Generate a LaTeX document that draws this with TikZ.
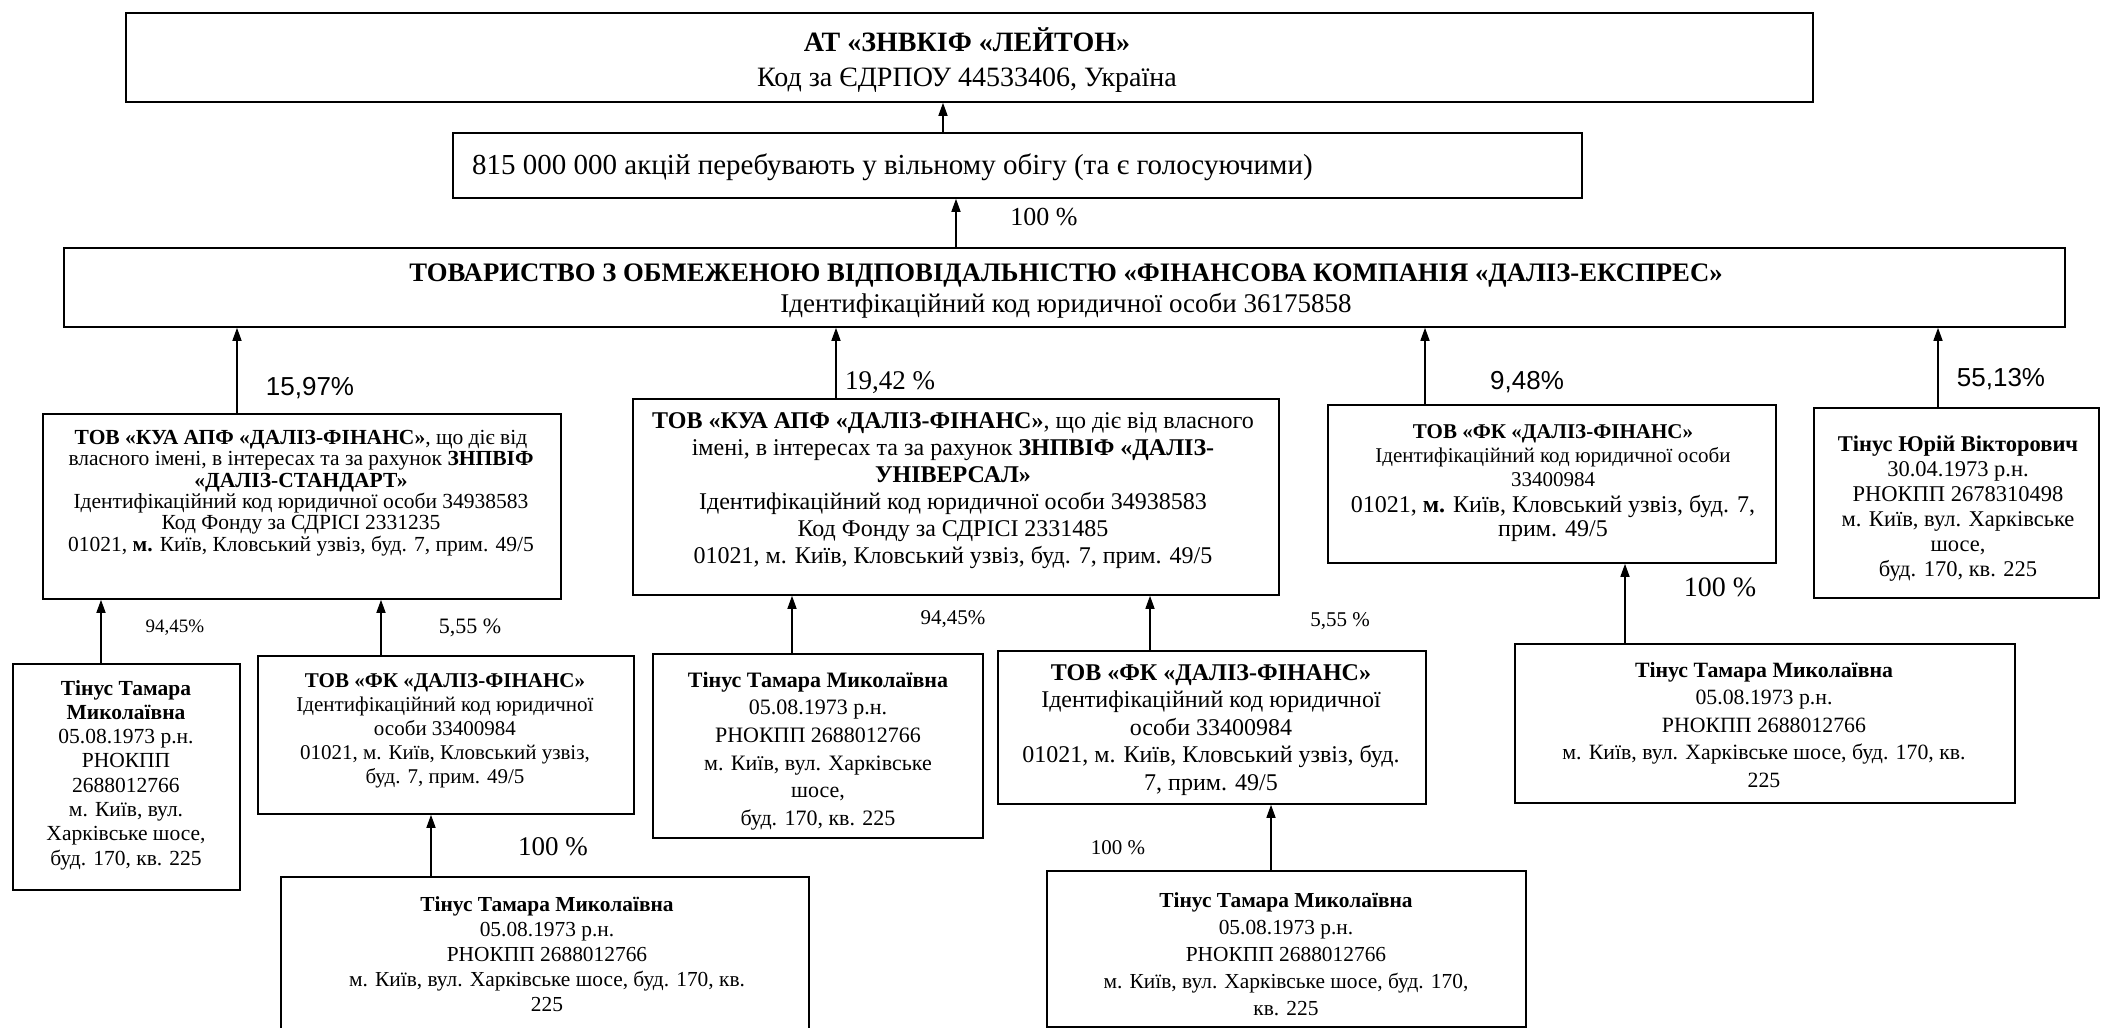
\documentclass[tikz,border=0pt]{standalone}
\usepackage{fontspec}
\setmainfont{Liberation Serif}
\newfontfamily\pctsans{Liberation Sans}
\usetikzlibrary{arrows.meta}
\newcommand{\fsz}[2]{\fontsize{#1}{#2}\selectfont}
\begin{document}
\begin{tikzpicture}[x=1pt,y=-1pt,
  box/.style={draw, line width=1.8pt, inner sep=0pt, anchor=north west},
  txt/.style={align=center, inner sep=0pt},
  pct/.style={inner sep=0pt},
  arr/.style={line width=1.5pt, -{Triangle[length=13pt,width=9pt]}}]
\fill[white] (0,0) rectangle (2105,1028);
\useasboundingbox (0,0) rectangle (2105,1028);

% ---------- boxes ----------
\node[box, minimum width=1687pt, minimum height=89pt] (b1) at (125,12) {};
\node[box, minimum width=1129pt, minimum height=65pt] (b2) at (452,132) {};
\node[box, minimum width=2001pt, minimum height=79pt] (b3) at (63,247) {};
\node[box, minimum width=518pt, minimum height=185pt] (b4) at (42,413) {};
\node[box, minimum width=646pt, minimum height=196pt] (b5) at (632,398) {};
\node[box, minimum width=448pt, minimum height=158pt] (b6) at (1327,404) {};
\node[box, minimum width=285pt, minimum height=190pt] (b7) at (1813,407) {};
\node[box, minimum width=227pt, minimum height=226pt] (b8) at (12,663) {};
\node[box, minimum width=376pt, minimum height=158pt] (b10) at (257,655) {};
\node[box, minimum width=528pt, minimum height=160pt] (b11) at (280,876) {};
\node[box, minimum width=330pt, minimum height=184pt] (b12) at (652,653) {};
\node[box, minimum width=428pt, minimum height=153pt] (b13) at (997,650) {};
\node[box, minimum width=479pt, minimum height=156pt] (b14) at (1046,870) {};
\node[box, minimum width=500pt, minimum height=159pt] (b9) at (1514,643) {};

% ---------- texts ----------
\node[txt, font=\fsz{28}{35}] (b1t) at (967,60)
  {\bfseries АТ «ЗНВКІФ «ЛЕЙТОН»\\Код за ЄДРПОУ 44533406, Україна};
\node[txt, anchor=west, font=\fsz{29}{34}] (b2t) at (472,167)
  {815 000 000 акцій перебувають у вільному обігу (та є голосуючими)};
\node[txt, font=\fsz{26.7}{31}] (b3t) at (1066,291)
  {\bfseries ТОВАРИСТВО З ОБМЕЖЕНОЮ ВІДПОВІДАЛЬНІСТЮ «ФІНАНСОВА КОМПАНІЯ «ДАЛІЗ-ЕКСПРЕС»\\
   \fsz{27}{31}Ідентифікаційний код юридичної особи 36175858};
\node[txt, font=\fsz{21.5}{21.4}] (b4t) at (301,493)
  {\textbf{ТОВ «КУА АПФ «ДАЛІЗ-ФІНАНС»}, що діє від\\
   власного імені, в інтересах та за рахунок \textbf{ЗНПВІФ}\\
   \textbf{«ДАЛІЗ-СТАНДАРТ»}\\
   Ідентифікаційний код юридичної особи 34938583\\
   Код Фонду за СДРІСІ 2331235\\
   01021, \textbf{м.} Київ, Кловський узвіз, буд. 7, прим. 49/5};
\node[txt, font=\fsz{24}{27}] (b5t) at (953,491)
  {\textbf{ТОВ «КУА АПФ «ДАЛІЗ-ФІНАНС»}, що діє від власного\\
   імені, в інтересах та за рахунок \textbf{ЗНПВІФ «ДАЛІЗ-}\\
   \textbf{УНІВЕРСАЛ»}\\
   Ідентифікаційний код юридичної особи 34938583\\
   Код Фонду за СДРІСІ 2331485\\
   01021, м. Київ, Кловський узвіз, буд. 7, прим. 49/5};
\node[txt, font=\fsz{21}{24}] (b6t) at (1553,483)
  {\textbf{ТОВ «ФК «ДАЛІЗ-ФІНАНС»}\\
   Ідентифікаційний код юридичної особи\\
   33400984\\[2pt]
   \fsz{24}{27}01021, \textbf{м.} Київ, Кловський узвіз, буд. 7,\\
   \fsz{24}{27}прим. 49/5};
\node[txt, font=\fsz{22.5}{25}] (b7t) at (1958,509)
  {\textbf{Тінус Юрій Вікторович}\\
   30.04.1973 р.н.\\
   РНОКПП 2678310498\\
   м. Київ, вул. Харківське\\
   шосе,\\
   буд. 170, кв. 225};
\node[txt, font=\fsz{21.5}{24.3}] (b8t) at (126,775)
  {\textbf{Тінус Тамара}\\
   \textbf{Миколаївна}\\
   05.08.1973 р.н.\\
   РНОКПП\\
   2688012766\\
   м. Київ, вул.\\
   Харківське шосе,\\
   буд. 170, кв. 225};
\node[txt, font=\fsz{21}{24}] (b10t) at (445,731)
  {\textbf{ТОВ «ФК «ДАЛІЗ-ФІНАНС»}\\
   Ідентифікаційний код юридичної\\
   особи 33400984\\
   01021, м. Київ, Кловський узвіз,\\
   буд. 7, прим. 49/5};
\node[txt, font=\fsz{21.4}{25}] (b11t) at (547,954)
  {\textbf{Тінус Тамара Миколаївна}\\
   05.08.1973 р.н.\\
   РНОКПП 2688012766\\
   м. Київ, вул. Харківське шосе, буд. 170, кв.\\
   225};
\node[txt, font=\fsz{22}{27.6}] (b12t) at (818,751)
  {\textbf{Тінус Тамара Миколаївна}\\
   05.08.1973 р.н.\\
   РНОКПП 2688012766\\
   м. Київ, вул. Харківське\\
   шосе,\\
   буд. 170, кв. 225};
\node[txt, font=\fsz{24}{27.5}] (b13t) at (1211,730)
  {\textbf{ТОВ «ФК «ДАЛІЗ-ФІНАНС»}\\
   Ідентифікаційний код юридичної\\
   особи 33400984\\
   01021, м. Київ, Кловський узвіз, буд.\\
   7, прим. 49/5};
\node[txt, font=\fsz{21.4}{27}] (b14t) at (1286,954)
  {\textbf{Тінус Тамара Миколаївна}\\
   05.08.1973 р.н.\\
   РНОКПП 2688012766\\
   м. Київ, вул. Харківське шосе, буд. 170,\\
   кв. 225};
\node[txt, font=\fsz{21.8}{27.5}] (b9t) at (1764,725)
  {\textbf{Тінус Тамара Миколаївна}\\
   05.08.1973 р.н.\\
   РНОКПП 2688012766\\
   м. Київ, вул. Харківське шосе, буд. 170, кв.\\
   225};

% ---------- percentages ----------
\node[pct, font=\fsz{26}{30}] (p1) at (1044,217) {100 \%};
\node[pct, font=\pctsans\fsz{26}{30}] (p2) at (310,388) {15,97\%};
\node[pct, font=\fsz{27}{30}] (p3) at (890,383) {19,42 \%};
\node[pct, font=\pctsans\fsz{26}{30}] (p4) at (1527,382) {9,48\%};
\node[pct, font=\pctsans\fsz{26}{30}] (p5) at (2001,379) {55,13\%};
\node[pct, font=\fsz{19}{22}] (p6) at (175,628) {94,45\%};
\node[pct, font=\fsz{22}{24}] (p7) at (470,628) {5,55 \%};
\node[pct, font=\fsz{21}{24}] (p8) at (953,619) {94,45\%};
\node[pct, font=\fsz{21}{24}] (p9) at (1340,621) {5,55 \%};
\node[pct, font=\fsz{27}{30}] (p10) at (553,847) {100 \%};
\node[pct, font=\fsz{21}{24}] (p11) at (1118,848) {100 \%};
\node[pct, font=\fsz{28}{30}] (p12) at (1720,587) {100 \%};

% ---------- connectors ----------
\draw[arr] (943,0 |- b2.north) -- (943,0 |- b1.south);
\draw[arr] (956,0 |- b3.north) -- (956,0 |- b2.south);
\draw[arr] (237,0 |- b4.north) -- (237,0 |- b3.south);
\draw[arr] (836,0 |- b5.north) -- (836,0 |- b3.south);
\draw[arr] (1425,0 |- b6.north) -- (1425,0 |- b3.south);
\draw[arr] (1938,0 |- b7.north) -- (1938,0 |- b3.south);
\draw[arr] (101,0 |- b8.north) -- (101,0 |- b4.south);
\draw[arr] (381,0 |- b10.north) -- (381,0 |- b4.south);
\draw[arr] (431,0 |- b11.north) -- (431,0 |- b10.south);
\draw[arr] (792,0 |- b12.north) -- (792,0 |- b5.south);
\draw[arr] (1150,0 |- b13.north) -- (1150,0 |- b5.south);
\draw[arr] (1271,0 |- b14.north) -- (1271,0 |- b13.south);
\draw[arr] (1625,0 |- b9.north) -- (1625,0 |- b6.south);
\end{tikzpicture}
\end{document}
